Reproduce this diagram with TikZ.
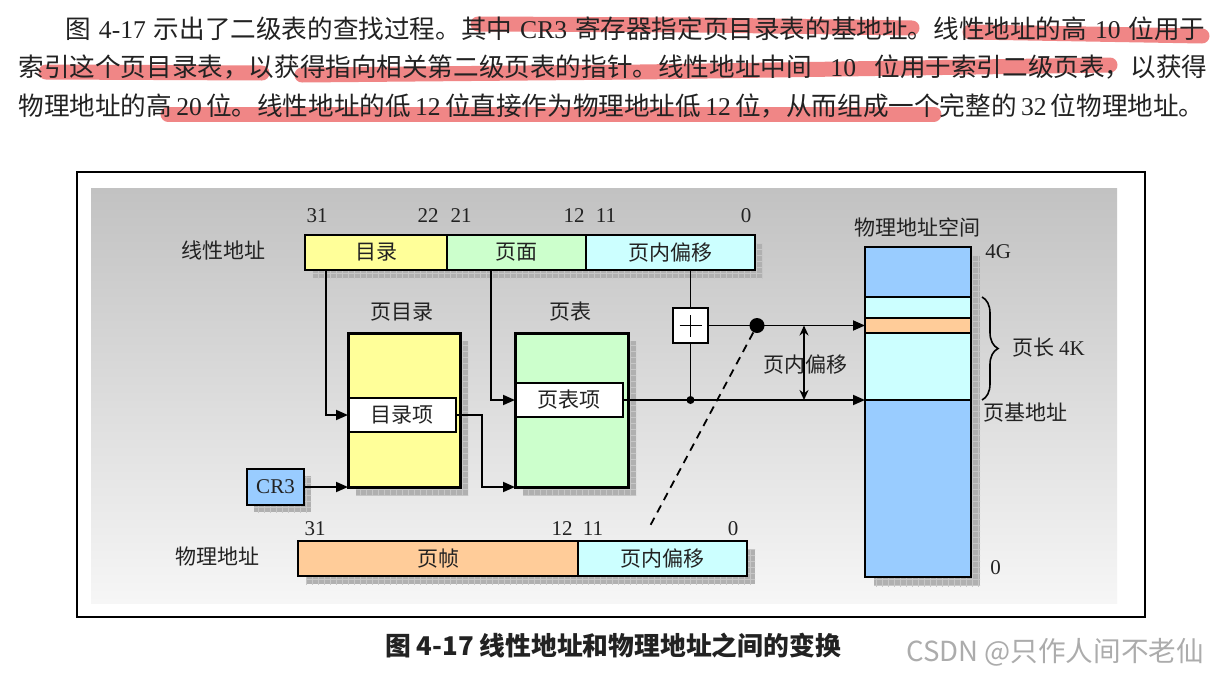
\documentclass[tikz,border=0pt]{standalone}
\usepackage{fontspec}
\setmainfont{Liberation Serif}
\newfontfamily\cjk{Noto Sans CJK SC}
\usetikzlibrary{arrows.meta,positioning,patterns,decorations.pathreplacing}
\pgfdeclarelayer{bg}
\pgfsetlayers{bg,main}
\definecolor{yel}{HTML}{FFFF99}
\definecolor{grn}{HTML}{CCFFCC}
\definecolor{cyn}{HTML}{CCFFFF}
\definecolor{org}{HTML}{FFCC99}
\definecolor{blu}{HTML}{99CCFF}
\definecolor{hl}{HTML}{F08686}
\definecolor{ink}{HTML}{222222}

\begin{document}
\begin{tikzpicture}[x=0.5pt,y=-0.5pt,>={Triangle[length=6pt,width=5pt]},
  txt/.style={font=\cjk\fontsize{10.5}{12}\selectfont,text=ink,inner sep=0pt},
  bit/.style={font=\fontsize{10.5}{12}\selectfont,text=ink,inner sep=0pt},
  field/.style={draw,line width=1pt,minimum height=17.5pt,inner sep=0pt,outer sep=0pt,font=\cjk\fontsize{10.5}{12}\selectfont,text=ink},
  tbl/.style={draw,line width=1.5pt,minimum width=56pt,minimum height=77pt,inner sep=0pt,outer sep=0pt,anchor=north west},
  entry/.style={draw,fill=white,line width=0.8pt,minimum width=54pt,minimum height=17pt,inner sep=0pt,outer sep=0pt,anchor=north west,font=\cjk\fontsize{10.5}{12}\selectfont,text=ink},
  seg/.style={draw,line width=0.8pt,minimum width=53pt,inner sep=0pt,outer sep=0pt},
  shd/.style={fill=gray!62,postaction={pattern=grid,pattern color=gray!45}},
  arr/.style={->,line width=0.9pt},
  wire/.style={line width=0.9pt},
  sdot/.style={circle,fill,inner sep=0pt,minimum size=4pt},
  bdot/.style={circle,fill,inner sep=0pt,minimum size=7.5pt},
  para/.style={font=\fontsize{12.8}{15}\selectfont,text=ink,inner sep=0pt,anchor=west},
  hlstroke/.style={line width=7.5pt,line cap=round,line join=round,draw=hl}]
\useasboundingbox (0,0) rectangle (1211,675);
\begin{pgfonlayer}{bg}
\fill[white] (0,0) rectangle (1211,675);
\shade[top color=gray!48,bottom color=gray!7] (91,188) rectangle (1117,603);
\end{pgfonlayer}

\draw[hlstroke] (478,24) -- (700,25) -- (912,28);
\draw[hlstroke] (970,32) -- (1202,36);
\draw[hlstroke] (46,72) -- (262,73);
\draw[hlstroke] (302,75) -- (640,72) -- (1110,65);
\draw[hlstroke] (168,114) -- (934,114);
\node[para] (p1) at (65,29) {\makebox[570pt][s]{{\cjk 图} 4-17 {\cjk 示出了二级表的查找过程。其中} CR3 {\cjk 寄存器指定页目录表的基地址。线性地址的高} 10 {\cjk 位用于}}};
\node[para] (p2) at (18,67) {\makebox[594.5pt][s]{{\cjk 索引这个页目录表，以获得指向相关第二级页表的指针。线性地址中间} 10 {\cjk 位用于索引二级页表，以获得}}};
\node[para] (p3) at (18,106) {\makebox[591pt][s]{{\cjk 物理地址的高} 20 {\cjk 位。线性地址的低} 12 {\cjk 位直接作为物理地址低} 12 {\cjk 位，从而组成一个完整的} 32 {\cjk 位物理地址。}}};

\draw[line width=1.4pt] (77,172) rectangle (1145,617);

\node[txt] (lin) at (223,250) {线性地址};
\node[field,fill=yel,minimum width=71pt,anchor=north west] (ldir) at (305,235) {目录};
\node[field,fill=grn,minimum width=69.5pt,right=0pt of ldir] (lpg) {页面};
\node[field,fill=cyn,minimum width=84.5pt,right=0pt of lpg] (loff) {页内偏移};
\foreach \x/\t in {317/31,428/22,461/21,574/12,606/11,746/0}
  \node[bit] (lb\t) at (\x,216) {\t};

\node[txt] (pdt) at (402,312) {页目录};
\node[tbl,fill=yel] (dir) at (348,333) {};
\node[entry] (dire) at (348,398) {目录项};
\draw[line width=1.5pt] (dir.north west) rectangle (dir.south east);
\node[txt] (ptt) at (570,312) {页表};
\node[tbl,fill=grn,minimum width=56.5pt] (pg) at (515,333) {};
\node[entry] (pte) at (515,383) {页表项};
\draw[line width=1.5pt] (pg.north west) rectangle (pg.south east);

\node[field,fill=blu,minimum width=28.5pt,minimum height=18pt,font=\fontsize{10.5}{12}\selectfont] (cr3) at (275.5,487) {CR3};
\node[field,fill=white,minimum width=17.5pt,minimum height=17.5pt] (plus) at (690.5,325.5) {};
\draw[wire] ([xshift=-5.5pt]plus.center) -- ([xshift=5.5pt]plus.center)
  ([yshift=-5.5pt]plus.center) -- ([yshift=5.5pt]plus.center);

\node[txt] (pas) at (917,227) {物理地址空间};
\node[seg,fill=blu,minimum height=25pt,anchor=north] (m1) at (918,247) {};
\node[seg,fill=cyn,minimum height=10.5pt,below=0pt of m1] (m2) {};
\node[seg,fill=org,minimum height=7.5pt,below=0pt of m2] (m3) {};
\node[seg,fill=cyn,minimum height=33.5pt,below=0pt of m3] (m4) {};
\node[seg,fill=blu,minimum height=88.5pt,below=0pt of m4] (m5) {};
\node[bit,anchor=west] (g4) at (985,252) {4G};
\node[bit,anchor=west] (z0) at (990,568) {0};
\node[txt,anchor=west] (plen) at (1012,348) {页长 {\rmfamily 4K}};
\node[txt,anchor=west] (pbase) at (983,413) {页基地址};
\draw[decorate,decoration={brace,amplitude=8pt},line width=0.8pt] ([xshift=5.5pt]m2.north east) -- ([xshift=5.5pt]m5.north east);

\draw[arr] ([xshift=10.5pt]ldir.south west) |- (dire.west);
\draw[arr] ([xshift=22pt]lpg.south west) |- (pte.west);
\draw[arr] (cr3.east) -- (dir.south west);
\draw[arr] (dire.east) -- ++(13pt,0) |- (pg.south west);
\draw[wire] (plus.north |- loff.south) -- (plus.north);
\node[sdot] (sd) at (plus.south |- pte.east) {};
\draw[wire] (plus.south) -- (sd);
\draw[arr] (pte.east) -- (pte.east -| m5.north west);
\draw[arr] (plus.east) -- (m3.west);
\node[bdot] (bd) at (757,325.5) {};
\coordinate (dend) at (650,526);
\draw[wire,dash pattern=on 4pt off 3pt] (bd) -- (dend);
\coordinate (ofs) at (804,365);
\draw[wire,{Stealth[length=5pt,width=4.5pt]}-{Stealth[length=5pt,width=4.5pt]}] (ofs |- plus.east) -- (ofs |- pte.east);
\node[txt] (ofl) at (805,365) {页内偏移};

\node[txt] (phy) at (217,557) {物理地址};
\node[field,fill=org,minimum width=140pt,anchor=north west] (ppf) at (298,541) {页帧};
\node[field,fill=cyn,minimum width=84.5pt,right=0pt of ppf] (poff) {页内偏移};
\foreach \x/\t in {315/31,562/12,593/11,733/0}
  \node[bit] (pb\t) at (\x,529) {\t};

\begin{pgfonlayer}{bg}
\fill[shd] ([shift={(4pt,-4pt)}]ldir.north west) rectangle ([shift={(4pt,-4pt)}]loff.south east);
\fill[shd] ([shift={(4pt,-4pt)}]dir.north west) rectangle ([shift={(4pt,-4pt)}]dir.south east);
\fill[shd] ([shift={(4pt,-4pt)}]pg.north west) rectangle ([shift={(4pt,-4pt)}]pg.south east);
\fill[shd] ([shift={(3.5pt,-3.5pt)}]cr3.north west) rectangle ([shift={(3.5pt,-3.5pt)}]cr3.south east);
\fill[shd] ([shift={(4.5pt,-4.5pt)}]m1.north west) rectangle ([shift={(4.5pt,-4.5pt)}]m5.south east);
\fill[shd] ([shift={(4pt,-4pt)}]ppf.north west) rectangle ([shift={(4pt,-4pt)}]poff.south east);
\end{pgfonlayer}

\node[font=\cjk\bfseries\fontsize{12.9}{14}\selectfont,text=ink] (cap) at (613,646) {图 4-17 线性地址和物理地址之间的变换};
\node[font=\cjk\fontsize{13.8}{16}\selectfont,text=gray!65] (wm) at (1055,652) {CSDN @只作人间不老仙};
\end{tikzpicture}
\end{document}
